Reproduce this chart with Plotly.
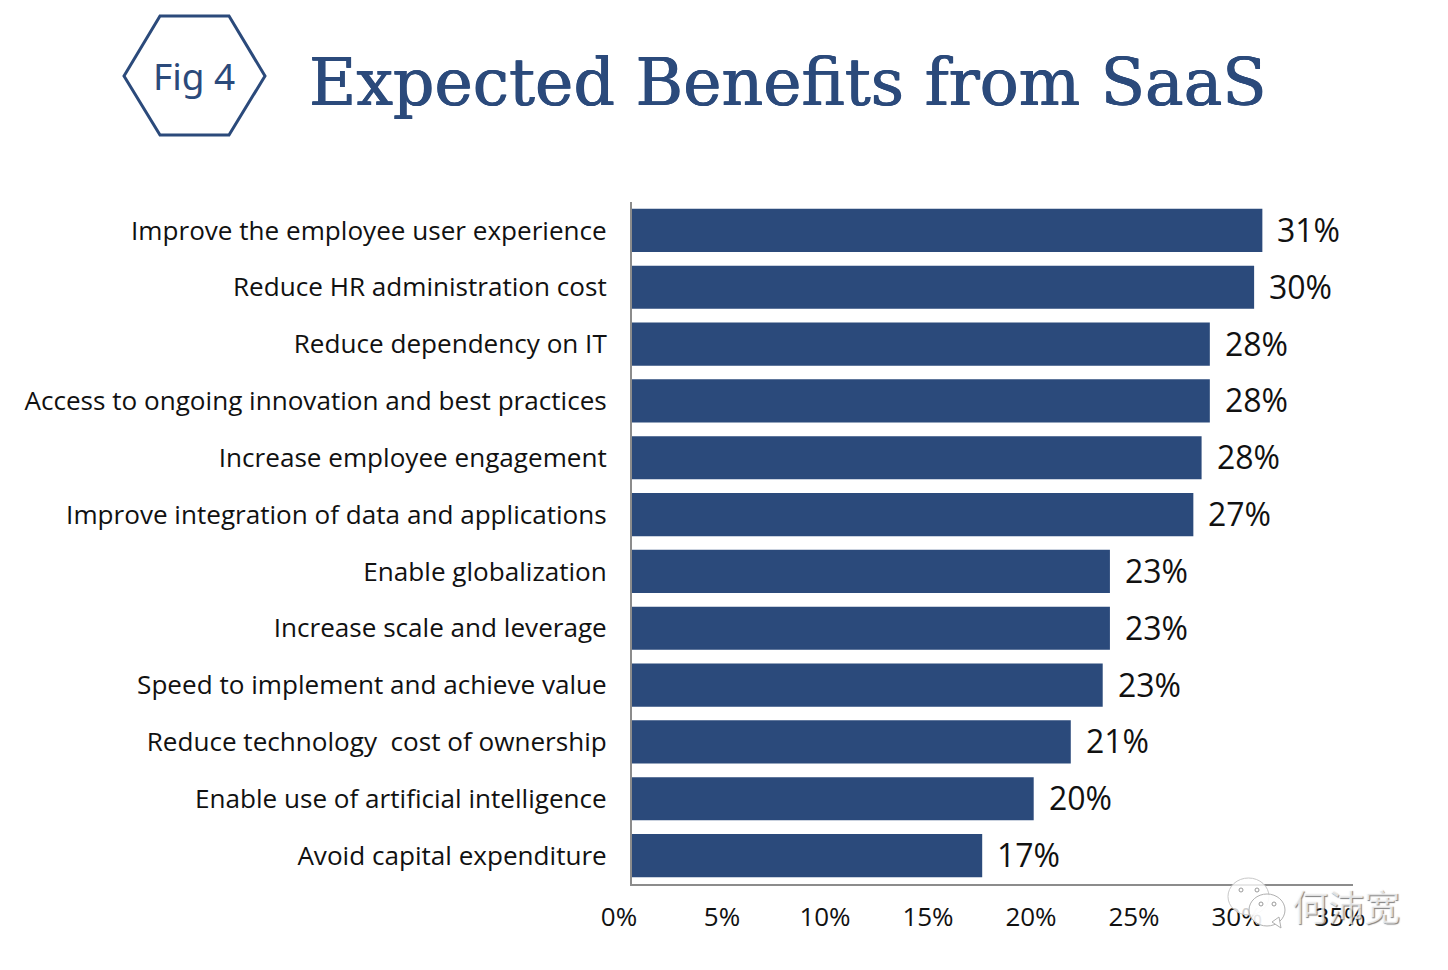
import plotly.graph_objects as go

categories = ["Improve the employee user experience", "Reduce HR administration cost", "Reduce dependency on IT",
              "Access to ongoing innovation and best practices", "Increase employee engagement",
              "Improve integration of data and applications", "Enable globalization", "Increase scale and leverage",
              "Speed to implement and achieve value", "Reduce technology  cost of ownership",
              "Enable use of artificial intelligence", "Avoid capital expenditure"]
bar_values = [30.6, 30.2, 28.05, 28.05, 27.65, 27.25, 23.2, 23.2, 22.85, 21.3, 19.5, 17.0]
value_labels = ["31%", "30%", "28%", "28%", "28%", "27%", "23%", "23%", "23%", "21%", "20%", "17%"]
x_ticks = [0, 5, 10, 15, 20, 25, 30, 35]
x_tick_labels = ["0%", "5%", "10%", "15%", "20%", "25%", "30%", "35%"]

BLUE = "#2B4A7B"
L, R, T, B = 632, 1353, 202, 884
def px(x): return (x - L) / (R - L)
def py(y): return (B - y) / (B - T)

fig = go.Figure(go.Bar(x=bar_values, y=categories, orientation="h", marker=dict(color=BLUE, line_width=0),
                       width=0.76, hoverinfo="skip"))

annotations = [dict(x=v, y=c, text=t, xref="x", yref="y", xanchor="left", yanchor="middle", xshift=13, yshift=1,
                    showarrow=False, font=dict(family="Open Sans", size=32, color="#111111"))
               for v, c, t in zip(bar_values, categories, value_labels)]
annotations.append(dict(x=px(307), y=py(83), xref="paper", yref="paper", xanchor="left", yanchor="middle",
                        text="Expected Benefits from SaaS", showarrow=False,
                        font=dict(family="DejaVu Serif", size=64.8, color=BLUE,
                                  shadow=f"0.6px 0 0 {BLUE}, -0.4px 0 0 {BLUE}")))
annotations.append(dict(x=px(194), y=py(75.5), xref="paper", yref="paper", xanchor="center", yanchor="middle",
                        text="Fig 4", showarrow=False, font=dict(family="Noto Sans", size=37, color=BLUE)))
annotations.append(dict(x=px(1290), y=py(905), xref="paper", yref="paper", xanchor="left", yanchor="middle",
                        text="何沛宽", showarrow=False,
                        font=dict(family="Noto Sans CJK SC", size=36, color="rgba(255,255,255,0.75)",
                                  shadow="1px 1px 1px #555555")))

def poly(pts, **kw):
    path = "M " + " L ".join(f"{px(x):.5f},{py(y):.5f}" for x, y in pts) + " Z"
    return dict(type="path", xref="paper", yref="paper", path=path, layer="above", **kw)
def oval(x0, y0, x1, y1, **kw):
    return dict(type="circle", xref="paper", yref="paper", x0=px(x0), x1=px(x1), y0=py(y0), y1=py(y1), layer="above", **kw)

shapes = [poly([(124, 76), (160, 16), (229, 16), (265, 76), (229, 135), (160, 135)], line=dict(color=BLUE, width=3)),
          oval(1228, 878, 1269, 915, line=dict(color="#c8c8c8", width=1), fillcolor="rgba(255,255,255,0.8)"),
          oval(1249, 894, 1285, 926, line=dict(color="#b0b0b0", width=1), fillcolor="rgba(255,255,255,0.9)"),
          poly([(1272, 922), (1281, 928), (1279, 917)], line=dict(color="#b0b0b0", width=1), fillcolor="white")]
for cx, cy in [(1241, 890), (1257, 890), (1261, 904), (1274, 904)]:
    shapes.append(oval(cx - 2, cy - 2, cx + 2, cy + 2, line=dict(color="#999999", width=1), fillcolor="white"))

fig.update_layout(
    width=1448, height=970, margin=dict(l=L, r=1448 - R, t=T, b=970 - B),
    paper_bgcolor="white", plot_bgcolor="white", showlegend=False, bargap=0.24,
    annotations=annotations, shapes=shapes,
    xaxis=dict(range=[0, 35], tickvals=x_ticks, ticktext=x_tick_labels, showgrid=False, zeroline=False,
               showline=True, linecolor="#8c8c8c", linewidth=2, ticks="", ticklabelshift=-13, ticklabelstandoff=9,
               tickfont=dict(family="Open Sans", size=26, color="#111111")),
    yaxis=dict(categoryorder="array", categoryarray=categories[::-1], showgrid=False, zeroline=False,
               showline=True, linecolor="#8c8c8c", linewidth=2, ticks="", ticklabelstandoff=18,
               tickfont=dict(family="Open Sans", size=26.1, color="#111111")),
)
fig.write_html("out.html", config=dict(displayModeBar=False),
               post_script="document.body.style.margin='0';document.body.style.overflow='hidden';")
